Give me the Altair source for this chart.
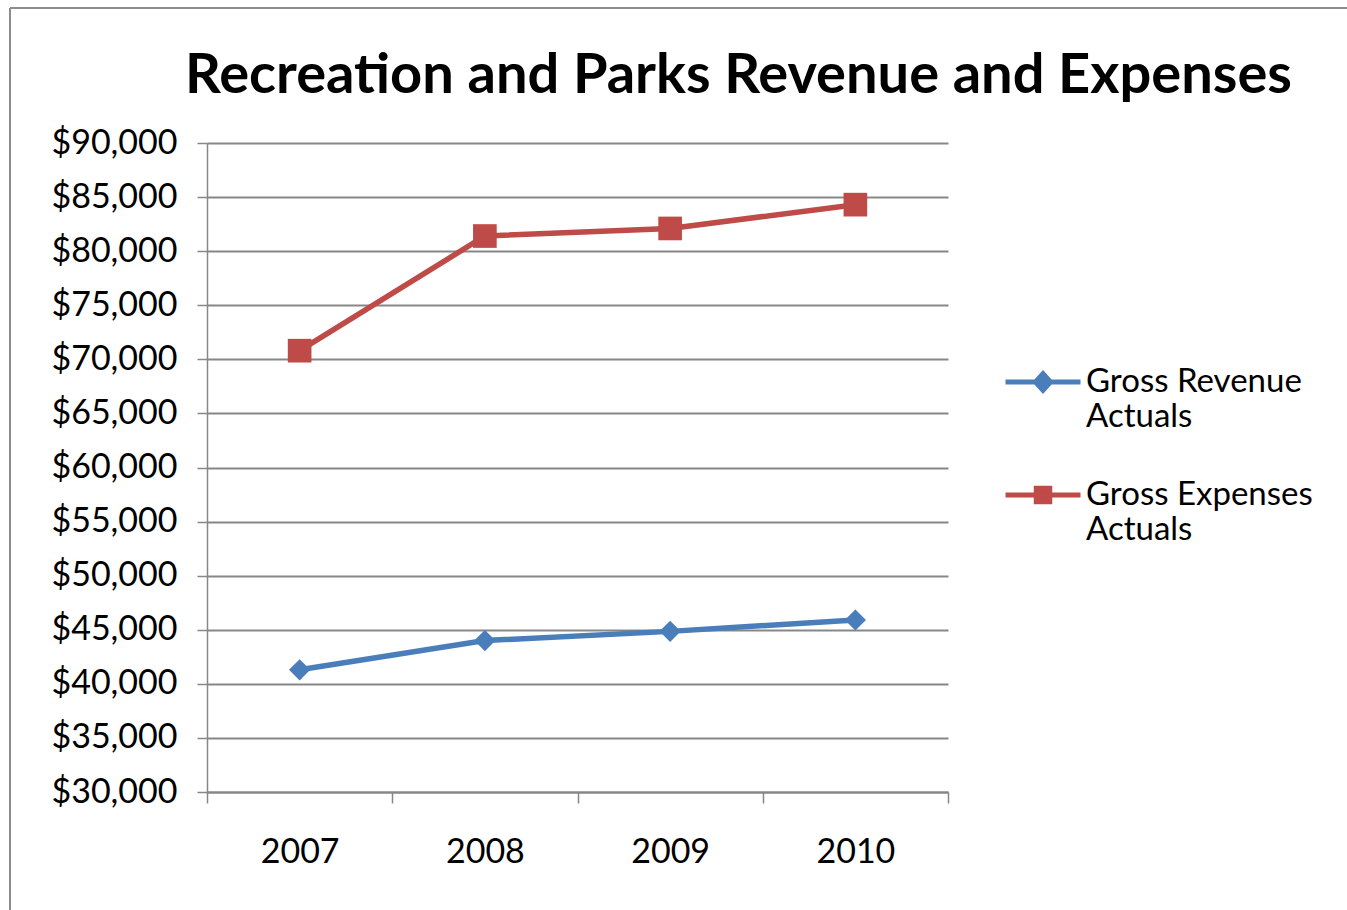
import altair as alt
import pandas as pd

years = ["2007", "2008", "2009", "2010"]
revenue = [41300, 44000, 44850, 45900]
expenses = [70800, 81400, 82100, 84300]
series_names = ["Gross Revenue Actuals", "Gross Expenses Actuals"]
series_colors = ["#4A7EBB", "#BE4B48"]
y_ticks = list(range(30000, 90001, 5000))
title_text = "Recreation and Parks Revenue and Expenses"

rows = []
for yr, r, e in zip(years, revenue, expenses):
    rows.append({"year": yr, "series": series_names[0], "value": r})
    rows.append({"year": yr, "series": series_names[1], "value": e})
df = pd.DataFrame(rows)

FONT = "Lato"
GRID = "#878787"

x_enc = alt.X(
    "year:O",
    scale=alt.Scale(type="band", domain=years, paddingInner=0, paddingOuter=0),
    axis=alt.Axis(
        title=None, tickBand="extent", labelAngle=0, labelFontSize=34, labelFont=FONT,
        labelColor="#000000", labelPadding=32, tickSize=11, tickColor=GRID, tickWidth=1.5,
        domainColor=GRID, domainWidth=2, grid=False,
    ),
)
y_enc = alt.Y(
    "value:Q",
    scale=alt.Scale(domain=[30000, 90000], nice=False, zero=False),
    axis=alt.Axis(
        title=None, values=y_ticks, format="$,d", labelFontSize=34, labelFont=FONT,
        labelColor="#000000", labelPadding=20, tickSize=10, tickColor=GRID, tickWidth=1.5,
        domainColor=GRID, domainWidth=1.5, grid=True, gridColor=GRID, gridWidth=2,
    ),
)

base = alt.Chart(df)

path_d = "M-1,0L1,0M0,-0.22L0.2,0L0,0.22L-0.2,0Z"
path_s = "M-1,0L1,0M-0.18,-0.18L0.18,-0.18L0.18,0.18L-0.18,0.18Z"

leg = alt.Legend(
    title=None, orient="none", legendX=796, legendY=199,
    labelFont=FONT, labelFontSize=33, labelColor="#000000", labelLimit=500,
    labelExpr="split(replace(datum.label, ' Actuals', '|Actuals'), '|')",
    labelOffset=3, symbolSize=5625, symbolStrokeWidth=5, rowPadding=21, symbolOpacity=1,
)

# layer that only carries the legend (tiny marks hidden beneath the real markers)
legend_layer = base.mark_point(filled=True, size=1, strokeWidth=5, opacity=1).encode(
    x=x_enc, y=y_enc,
    color=alt.Color("series:N", scale=alt.Scale(domain=series_names, range=series_colors), legend=leg),
    stroke=alt.Stroke("series:N", scale=alt.Scale(domain=series_names, range=series_colors), legend=leg),
    shape=alt.Shape("series:N", scale=alt.Scale(domain=series_names, range=[path_d, path_s]), legend=leg),
)

layers = [legend_layer]
for name, col in zip(series_names, series_colors):
    layers.append(
        base.transform_filter(alt.datum.series == name)
        .mark_line(strokeWidth=5.5, color=col)
        .encode(x=x_enc, y=y_enc)
    )

pts_rev = base.transform_filter(alt.datum.series == series_names[0]).mark_point(
    filled=True, shape="diamond", size=450, opacity=1, color=series_colors[0]
).encode(x=x_enc, y=y_enc)

pts_exp = base.transform_filter(alt.datum.series == series_names[1]).mark_point(
    filled=True, shape="square", size=560, opacity=1, color=series_colors[1]
).encode(x=x_enc, y=y_enc)

frame_v = alt.Chart(alt.Data(values=[{"k": 1}])).mark_rule(color="#8c8c8c", strokeWidth=2).encode(
    x=alt.value(-197), y=alt.value(-135), y2=alt.value(800)
)
frame_h = alt.Chart(alt.Data(values=[{"k": 1}])).mark_rule(color="#8c8c8c", strokeWidth=2).encode(
    x=alt.value(-197), x2=alt.value(1160), y=alt.value(-135)
)

chart = alt.layer(frame_v, frame_h, *layers, pts_rev, pts_exp).properties(
    width=741, height=649,
    background="#ffffff",
    title=alt.Title(title_text, font=FONT, fontSize=56, fontWeight="bold", color="#000000",
                    anchor="middle", dx=161, baseline="alphabetic", offset=-142),
    autosize=alt.AutoSizeParams(type="none"),
    padding={"left": 207, "top": 143, "right": 399, "bottom": 118},
).configure_view(stroke=None)

chart.save("out.html", embed_options={"renderer": "svg", "actions": False})
